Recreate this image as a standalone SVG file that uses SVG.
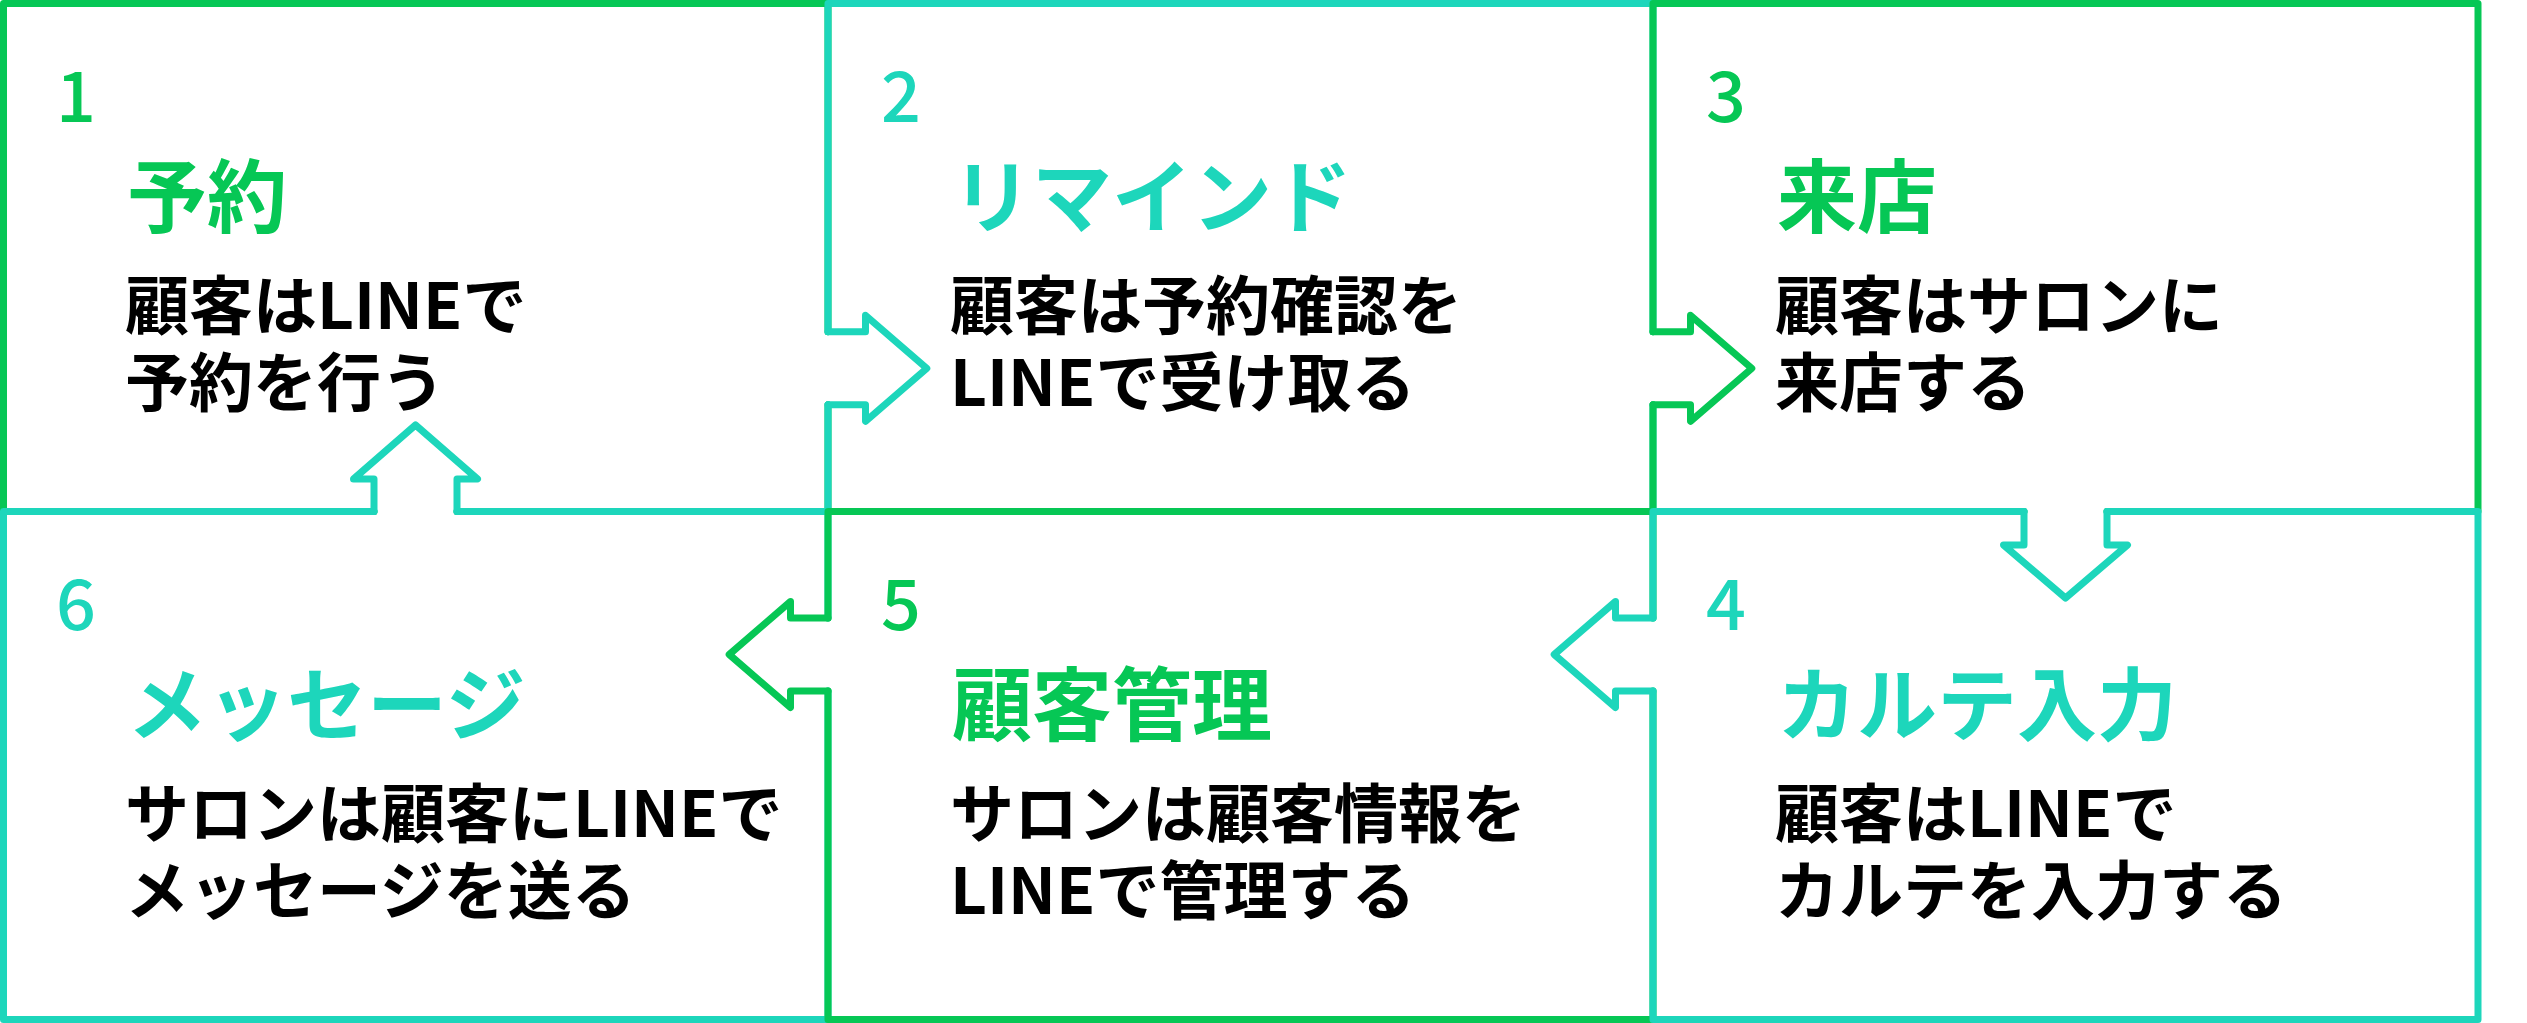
<svg xmlns="http://www.w3.org/2000/svg" width="2527" height="1023" viewBox="0 0 2527 1023">
<style>
.edge{fill:none;stroke-width:7;stroke-linejoin:round;stroke-linecap:round}
.g{stroke:#06c755}
.t{stroke:#1dd6bb}
text{font-family:"Noto Sans CJK JP","Noto Sans",sans-serif}
.num{font-size:70px;font-weight:500}
.ttl{font-size:80px;font-weight:700}
.body{font-size:64px;font-weight:700;fill:#000}
.fg{fill:#06c755}
.ft{fill:#1dd6bb}
</style>
<rect x="0" y="0" width="2527" height="1023" fill="#fff"/>
<g id="node1">
<path class="edge g" d="M828,404.8 L828,511.5 L457,511.5 M374,511.5 L3.5,511.5 L3.5,3.5 L828,3.5 L828,331.8"/>
<text class="num fg" x="56" y="122">1</text>
<text class="ttl fg" x="127" y="226">予約</text>
<text class="body"><tspan x="125" y="329">顧客はLINEで</tspan><tspan x="125" y="406">予約を行う</tspan></text>
</g>
<g id="node2">
<path class="edge t" d="M828,331.8 L828,3.5 L1653,3.5 L1653,331.8 M1653,404.8 L1653,511.5 L828,511.5 L828,404.8"/>
<text class="num ft" x="881" y="122">2</text>
<text class="ttl ft" x="952" y="226">リマインド</text>
<text class="body"><tspan x="950" y="329">顧客は予約確認を</tspan><tspan x="950" y="406">LINEで受け取る</tspan></text>
</g>
<g id="node3">
<path class="edge g" d="M1653,331.8 L1653,3.5 L2478,3.5 L2478,511.5 L2107,511.5 M2024,511.5 L1653,511.5 L1653,404.8"/>
<text class="num fg" x="1706" y="122">3</text>
<text class="ttl fg" x="1777" y="226">来店</text>
<text class="body"><tspan x="1775" y="329">顧客はサロンに</tspan><tspan x="1775" y="406">来店する</tspan></text>
</g>
<g id="node6">
<path class="edge t" d="M374,511.5 L3.5,511.5 L3.5,1019.5 L828,1019.5 L828,691 M828,618 L828,511.5 L457,511.5"/>
<text class="num ft" x="56" y="630">6</text>
<text class="ttl ft" x="127" y="734">メッセージ</text>
<text class="body"><tspan x="125" y="837">サロンは顧客にLINEで</tspan><tspan x="125" y="914">メッセージを送る</tspan></text>
</g>
<g id="node5">
<path class="edge g" d="M828,618 L828,511.5 L1653,511.5 L1653,618 M1653,691 L1653,1019.5 L828,1019.5 L828,691"/>
<text class="num fg" x="881" y="630">5</text>
<text class="ttl fg" x="952" y="734">顧客管理</text>
<text class="body"><tspan x="950" y="837">サロンは顧客情報を</tspan><tspan x="950" y="914">LINEで管理する</tspan></text>
</g>
<g id="node4">
<path class="edge t" d="M1653,618 L1653,511.5 L2024,511.5 M2107,511.5 L2478,511.5 L2478,1019.5 L1653,1019.5 L1653,691"/>
<text class="num ft" x="1706" y="630">4</text>
<text class="ttl ft" x="1777" y="734">カルテ入力</text>
<text class="body"><tspan x="1775" y="837">顧客はLINEで</tspan><tspan x="1775" y="914">カルテを入力する</tspan></text>
</g>
<g id="connectors">
<path id="a12" class="edge t" d="M828,331.8 L865.5,331.8 L865.5,315.3 L926.8,368.3 L865.5,421.3 L865.5,404.8 L828,404.8"/>
<path id="a23" class="edge g" d="M1653,331.8 L1690.5,331.8 L1690.5,315.3 L1751.8,368.3 L1690.5,421.3 L1690.5,404.8 L1653,404.8"/>
<path id="a34" class="edge t" d="M2024,511.5 L2024,545 L2003.5,545 L2065.5,598 L2127.5,545 L2107,545 L2107,511.5"/>
<path id="a45" class="edge t" d="M1653,618 L1615.5,618 L1615.5,601.5 L1554.2,654.5 L1615.5,707.5 L1615.5,691 L1653,691"/>
<path id="a56" class="edge g" d="M828,618 L790.5,618 L790.5,601.5 L729.2,654.5 L790.5,707.5 L790.5,691 L828,691"/>
<path id="a61" class="edge t" d="M374,511.5 L374,479 L353.5,479 L415.5,425 L477.5,479 L457,479 L457,511.5"/>
</g>
</svg>
